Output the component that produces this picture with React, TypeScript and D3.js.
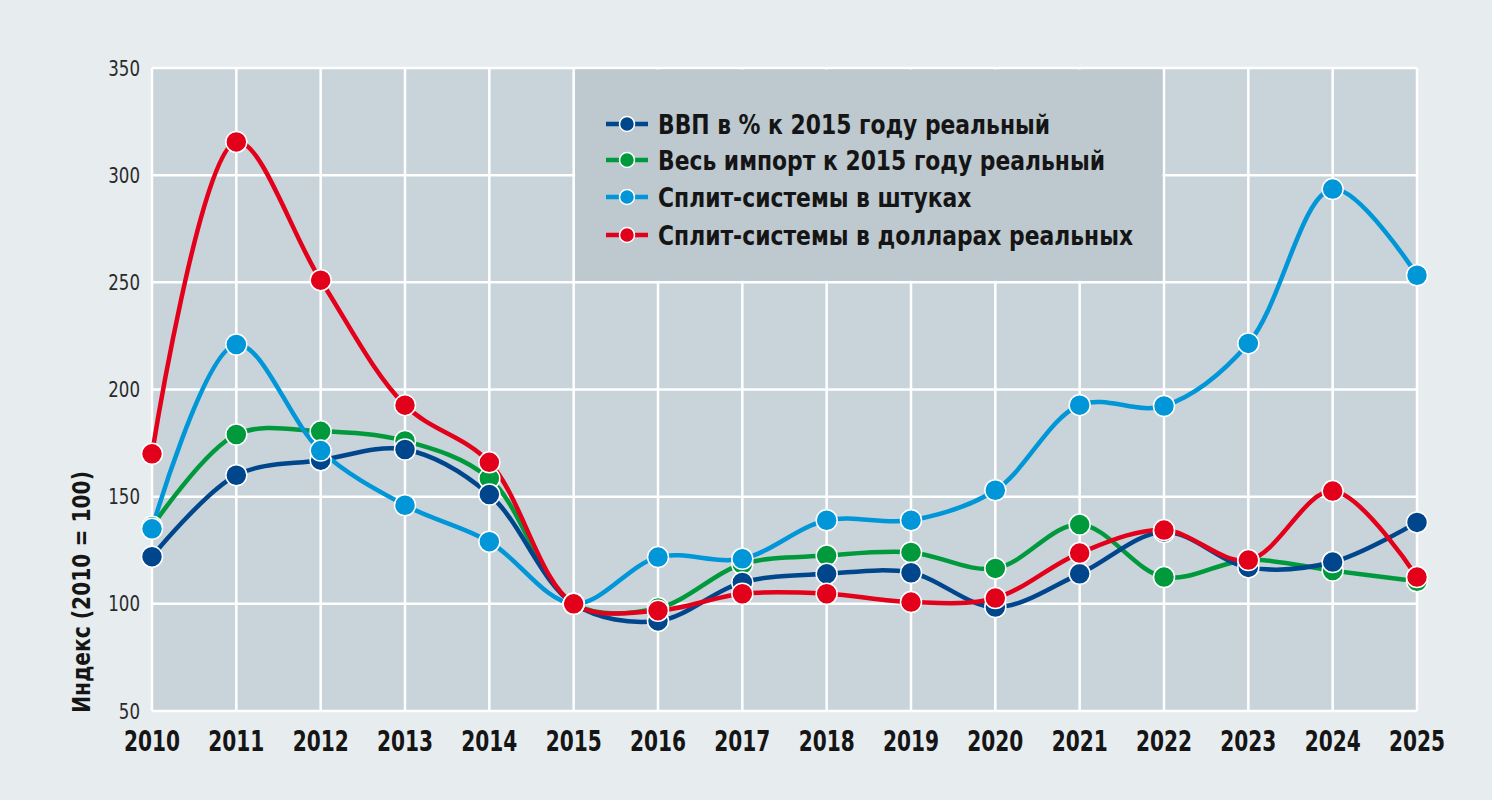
import * as d3 from "d3";
import { useEffect, useRef } from "react";

const years = [2010, 2011, 2012, 2013, 2014, 2015, 2016, 2017, 2018, 2019, 2020, 2021, 2022, 2023, 2024, 2025];
const yTicks = [50, 100, 150, 200, 250, 300, 350];

const gdp = [122, 160, 167, 172, 151, 100, 92, 110, 114, 114.5, 98.5, 114, 133.5, 117, 119.5, 138];
const imports = [136, 179, 180.5, 176, 158.5, 100, 98, 118.5, 122.5, 124, 116.5, 137, 112.5, 120.5, 115.5, 110.5];
const splitUnits = [135, 221, 171.5, 146, 129, 100, 121.8, 121, 139, 139, 153, 192.7, 192.3, 221.5, 293.5, 253.3];
const splitUsd = [170, 315.5, 251, 192.7, 166, 100, 96.8, 104.7, 104.7, 100.8, 102.7, 123.7, 134.4, 120.4, 152.6, 112.5];

const series = [
  { name: "ВВП в % к 2015 году реальный", values: gdp, color: "#00468c" },
  { name: "Весь импорт к 2015 году реальный", values: imports, color: "#009a3d" },
  { name: "Сплит-системы в штуках", values: splitUnits, color: "#0096d7" },
  { name: "Сплит-системы в долларах реальных", values: splitUsd, color: "#e2001a" },
];
// markers stack in this order (last on top)
const drawOrder = [1, 0, 2, 3];

const FONT = "'Liberation Sans Narrow', 'DejaVu Sans Condensed', sans-serif";

const App = () => {
  const ref = useRef<SVGSVGElement | null>(null);

  useEffect(() => {
    const svg = d3.select(ref.current);
    svg.selectAll("*").remove();

    const W = 1492;
    const H = 800;
    const left = 152;
    const right = 1417;
    const top = 68;
    const bottom = 711;

    const x = d3.scaleLinear().domain([2010, 2025]).range([left, right]);
    const y = d3.scaleLinear().domain([50, 350]).range([bottom, top]);

    svg.append("rect").attr("width", W).attr("height", H).attr("fill", "#e7ecef");
    svg
      .append("rect")
      .attr("x", left)
      .attr("y", top)
      .attr("width", right - left)
      .attr("height", bottom - top)
      .attr("fill", "#c8d3da");

    const grid = svg.append("g").attr("stroke", "#ffffff").attr("stroke-width", 2.5);
    grid
      .selectAll("line.v")
      .data(years)
      .enter()
      .append("line")
      .attr("x1", (d) => x(d))
      .attr("x2", (d) => x(d))
      .attr("y1", top)
      .attr("y2", bottom);
    grid
      .selectAll("line.h")
      .data(yTicks)
      .enter()
      .append("line")
      .attr("x1", left)
      .attr("x2", right)
      .attr("y1", (d) => y(d))
      .attr("y2", (d) => y(d));

    // legend panel sits over the grid
    svg
      .append("rect")
      .attr("x", x(2015) + 1.5)
      .attr("y", y(350) + 1.5)
      .attr("width", x(2022) - x(2015) - 3)
      .attr("height", y(250) - y(350) - 3)
      .attr("fill", "#bdc8cf");

    svg
      .append("g")
      .selectAll("text")
      .data(yTicks)
      .enter()
      .append("text")
      .attr("transform", (d) => `translate(${left - 12},${y(d)}) scale(0.88,1)`)
      .attr("dy", "0.36em")
      .attr("text-anchor", "end")
      .attr("font-family", FONT)
      .attr("font-size", 21)
      .attr("fill", "#2a2a2a")
      .text((d) => d);

    svg
      .append("g")
      .selectAll("text")
      .data(years)
      .enter()
      .append("text")
      .attr("transform", (d) => `translate(${x(d)},751) scale(0.8,1)`)
      .attr("text-anchor", "middle")
      .attr("font-family", FONT)
      .attr("font-weight", "bold")
      .attr("font-size", 28)
      .attr("fill", "#151515")
      .text((d) => d);

    svg
      .append("text")
      .attr("transform", `translate(90,592) rotate(-90) scale(0.9,1)`)
      .attr("text-anchor", "middle")
      .attr("font-family", FONT)
      .attr("font-weight", "bold")
      .attr("font-size", 25)
      .attr("fill", "#151515")
      .text("Индекс (2010 = 100)");

    const line = d3
      .line<number>()
      .x((_, i) => x(years[i]))
      .y((d) => y(d))
      .curve(d3.curveCatmullRom.alpha(0.5));

    drawOrder.forEach((k) => {
      svg
        .append("path")
        .attr("d", line(series[k].values))
        .attr("fill", "none")
        .attr("stroke", series[k].color)
        .attr("stroke-width", 4.5)
        .attr("stroke-linejoin", "round");
    });

    drawOrder.forEach((k) => {
      svg
        .append("g")
        .selectAll("circle")
        .data(series[k].values)
        .enter()
        .append("circle")
        .attr("cx", (_, i) => x(years[i]))
        .attr("cy", (d) => y(d))
        .attr("r", 10.5)
        .attr("fill", series[k].color)
        .attr("stroke", "#ffffff")
        .attr("stroke-width", 1.5);
    });

    const legend = svg.append("g");
    const rowY = [124, 160, 197, 235];
    series.forEach((s, i) => {
      const g = legend.append("g").attr("transform", `translate(0,${rowY[i]})`);
      g.append("line")
        .attr("x1", 606)
        .attr("x2", 648)
        .attr("stroke", s.color)
        .attr("stroke-width", 4.5);
      g.append("circle")
        .attr("cx", 627)
        .attr("r", 7.5)
        .attr("fill", s.color)
        .attr("stroke", "#ffffff")
        .attr("stroke-width", 1.5);
      g.append("text")
        .attr("transform", "translate(658,0) scale(0.9,1)")
        .attr("dy", "0.36em")
        .attr("font-family", FONT)
        .attr("font-weight", "bold")
        .attr("font-size", 27)
        .attr("fill", "#151515")
        .text(s.name);
    });
  }, []);

  return (
    <svg
      ref={ref}
      width={1492}
      height={800}
      style={{ position: "absolute", left: 0, top: 0, display: "block" }}
    />
  );
};

export default App;
